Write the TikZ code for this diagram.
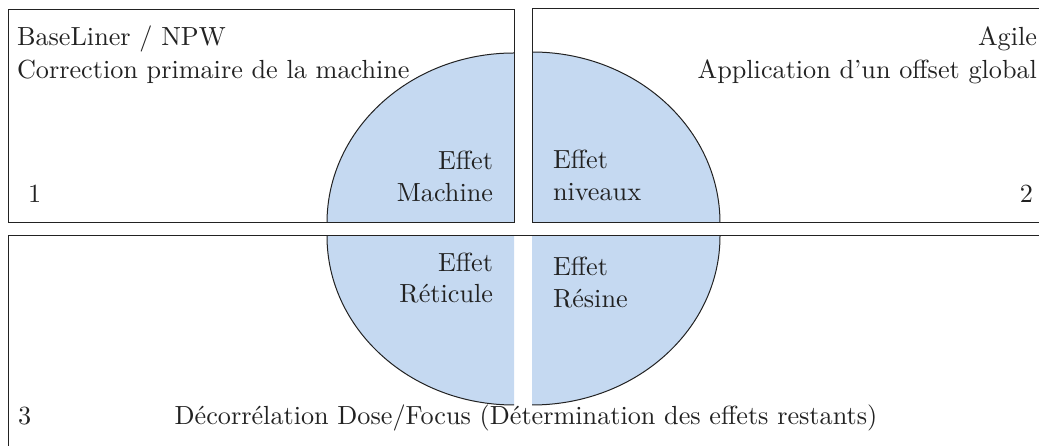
\documentclass[tikz,border=0pt]{standalone}
\usepackage{tikz}
\definecolor{qfill}{HTML}{C5D9F1}
\definecolor{ink}{HTML}{222222}
\tikzset{
  frame/.style={draw=ink, line width=1pt},
  quarter/.style={fill=qfill},
  arcline/.style={draw=ink, line width=1pt},
  lbl/.style={inner sep=0pt, outer sep=0pt, text=ink, font=\fontsize{10}{12}\selectfont, scale=2.62}
}
\begin{document}
\begin{tikzpicture}[x=1pt,y=1pt]
\useasboundingbox (0,0) rectangle (1039,446);
\clip (0,0) rectangle (1039,446);
% quarter ellipses (fill)
\fill[quarter] (514,223) -- (514,393) arc[start angle=90, end angle=180, x radius=187, y radius=170] -- cycle;
\fill[quarter] (532,223) -- (720,223) arc[start angle=0, end angle=90, x radius=188, y radius=171] -- cycle;
\fill[quarter] (514,210) -- (327,210) arc[start angle=180, end angle=270, x radius=187, y radius=169] -- cycle;
\fill[quarter] (532,210) -- (532,41) arc[start angle=270, end angle=360, x radius=188, y radius=169] -- cycle;
% arcs
\draw[arcline] (514,393) arc[start angle=90, end angle=180, x radius=187, y radius=170];
\draw[arcline] (720,223) arc[start angle=0, end angle=90, x radius=188, y radius=171];
\draw[arcline] (327,210) arc[start angle=180, end angle=270, x radius=187, y radius=169];
\draw[arcline] (532,41) arc[start angle=270, end angle=360, x radius=188, y radius=169];
% frames
\draw[frame] (8,436) rectangle (514,223);
\draw[frame] (532,437) rectangle (1060,223);
\draw[frame] (8,210) rectangle (1060,-20);
% texts
\node[lbl, anchor=base west] (t1a) at (17,400.5) {BaseLiner / NPW};
\node[lbl, anchor=base west] (t1b) at (17,367) {Correction primaire de la machine};
\node[lbl, anchor=base east] (t2a) at (1037,400.5) {Agile};
\node[lbl, anchor=base east] (t2b) at (1037,367) {Application d'un offset global};
\node[lbl, anchor=base west] (n1) at (28,243) {1};
\node[lbl, anchor=base east] (n2) at (1033,243) {2};
\node[lbl, anchor=base west] (n3) at (18,21) {3};
\node[lbl, anchor=base] (t3) at (526,21) {Décorrélation Dose/Focus (Détermination des effets restants)};
\node[lbl, anchor=base east] (ma) at (493,276) {Effet};
\node[lbl, anchor=base east] (mb) at (493,244) {Machine};
\node[lbl, anchor=base west] (na) at (553,277) {Effet};
\node[lbl, anchor=base west] (nb) at (553,245) {niveaux};
\node[lbl, anchor=base east] (ra) at (493,174) {Effet};
\node[lbl, anchor=base east] (rb) at (493,143) {Réticule};
\node[lbl, anchor=base west] (sa) at (553,170) {Effet};
\node[lbl, anchor=base west] (sb) at (553,138) {Résine};
\end{tikzpicture}
\end{document}
